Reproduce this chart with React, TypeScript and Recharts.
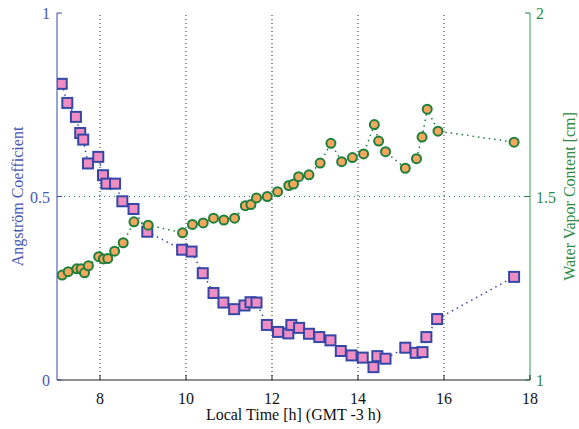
import React from 'react';
import { ComposedChart, Line, XAxis, YAxis, ReferenceLine } from 'recharts';

const angTime = [7.11, 7.24, 7.44, 7.54, 7.61, 7.72, 7.96, 8.07, 8.15, 8.35, 8.52, 8.78, 9.1, 9.91, 10.13, 10.39, 10.64, 10.87, 11.12, 11.36, 11.5, 11.64, 11.88, 12.14, 12.38, 12.45, 12.63, 12.86, 13.1, 13.36, 13.6, 13.85, 14.11, 14.36, 14.45, 14.64, 15.1, 15.34, 15.5, 15.59, 15.84, 17.63];
const angValue = [0.807, 0.755, 0.717, 0.673, 0.655, 0.59, 0.608, 0.558, 0.535, 0.535, 0.487, 0.466, 0.404, 0.355, 0.35, 0.291, 0.237, 0.211, 0.193, 0.203, 0.212, 0.211, 0.15, 0.131, 0.127, 0.15, 0.142, 0.126, 0.117, 0.108, 0.079, 0.067, 0.061, 0.035, 0.065, 0.058, 0.088, 0.074, 0.076, 0.117, 0.166, 0.281];
const wvTime = [7.12, 7.26, 7.46, 7.56, 7.64, 7.73, 7.97, 8.08, 8.18, 8.34, 8.54, 8.79, 9.12, 9.92, 10.15, 10.4, 10.64, 10.88, 11.13, 11.38, 11.51, 11.64, 11.89, 12.13, 12.39, 12.5, 12.62, 12.86, 13.12, 13.37, 13.62, 13.87, 14.13, 14.38, 14.48, 14.64, 15.1, 15.36, 15.49, 15.61, 15.86, 17.63];
const wvValue = [1.286, 1.295, 1.303, 1.303, 1.292, 1.311, 1.336, 1.33, 1.331, 1.351, 1.374, 1.431, 1.422, 1.401, 1.424, 1.428, 1.441, 1.436, 1.441, 1.475, 1.478, 1.496, 1.5, 1.513, 1.53, 1.534, 1.554, 1.559, 1.591, 1.645, 1.595, 1.606, 1.616, 1.696, 1.651, 1.622, 1.577, 1.603, 1.662, 1.738, 1.678, 1.648];

const xTicks = [8, 10, 12, 14, 16, 18];
const gridX = [8, 10, 12, 14, 16];
const leftTicks = [0, 0.5, 1];
const rightTicks = [1, 1.5, 2];
const leftTickLabels = ['0', '0.5', '1'];
const rightTickLabels = ['1', '1.5', '2'];

const angData = angTime.map((t, i) => ({ t, v: angValue[i] }));
const wvData = wvTime.map((t, i) => ({ t, v: wvValue[i] }));

const FONT = '"Liberation Serif", "Times New Roman", serif';
const BLUE = '#3548a6';
const BLUE_TXT = '#4758b4';
const PINK = '#f18dc3';
const GREEN = '#1f7f3c';
const GREEN_TXT = '#2e8b46';
const ORANGE = '#f5a85d';

const BottomTick = (props: any) => {
  const { x, y, payload } = props;
  return (
    <g>
      <line x1={x} x2={x} y1={y} y2={y - 5} stroke="#222" />
      <text x={x} y={y + 24} textAnchor="middle" fontFamily={FONT} fontSize={16} fill="#111">
        {payload.value}
      </text>
    </g>
  );
};

const TopTick = (props: any) => {
  const { x, y } = props;
  return <line x1={x} x2={x} y1={y} y2={y + 5} stroke="#222" />;
};

const LeftTick = (props: any) => {
  const { x, y, payload, index } = props;
  return (
    <g>
      <line x1={x} x2={x + 5} y1={y} y2={y} stroke={BLUE} />
      <text x={x - 7} y={y + 6} textAnchor="end" fontFamily={FONT} fontSize={16} fill={BLUE_TXT}>
        {leftTickLabels[index] ?? payload.value}
      </text>
    </g>
  );
};

const RightTick = (props: any) => {
  const { x, y, payload, index } = props;
  return (
    <g>
      <line x1={x} x2={x - 5} y1={y} y2={y} stroke={GREEN} />
      <text x={x + 6} y={y + 6} textAnchor="start" fontFamily={FONT} fontSize={16} fill={GREEN_TXT}>
        {rightTickLabels[index] ?? payload.value}
      </text>
    </g>
  );
};

const squareDot = (props: any) => {
  const { cx, cy, index } = props;
  return (
    <rect key={`sq${index}`} x={cx - 5} y={cy - 5} width={10} height={10} fill={PINK} stroke={BLUE} strokeWidth={2} />
  );
};

const circleDot = (props: any) => {
  const { cx, cy, index } = props;
  return <circle key={`ci${index}`} cx={cx} cy={cy} r={4.5} fill={ORANGE} stroke={GREEN} strokeWidth={2} />;
};

export default function App() {
  return (
    <div style={{ position: 'absolute', left: 0, top: 0, width: 579, height: 429, background: '#fff' }}>
      <ComposedChart width={579} height={429} margin={{ top: 13, right: 0, bottom: 0, left: 0 }}>
        <XAxis
          xAxisId="bottom"
          dataKey="t"
          type="number"
          domain={[7, 18]}
          ticks={xTicks}
          allowDataOverflow
          height={49}
          tickSize={0}
          tickMargin={0}
          tickLine={false}
          axisLine={{ stroke: '#222' }}
          tick={<BottomTick />}
          label={{ value: 'Local Time [h] (GMT -3 h)', position: 'center', dy: 10, fontFamily: FONT, fontSize: 16, fill: '#111' }}
        />
        <XAxis
          xAxisId="top"
          orientation="top"
          type="number"
          domain={[7, 18]}
          ticks={xTicks}
          allowDataOverflow
          height={0}
          tickSize={0}
          tickMargin={0}
          tickLine={false}
          axisLine={{ stroke: '#7d8f84' }}
          tick={<TopTick />}
        />
        <YAxis
          yAxisId="left"
          type="number"
          domain={[0, 1]}
          ticks={leftTicks}
          allowDataOverflow
          width={57}
          tickSize={0}
          tickMargin={0}
          tickLine={false}
          axisLine={{ stroke: BLUE }}
          tick={<LeftTick />}
          label={{ value: 'Angström Coefficient', angle: -90, position: 'center', dx: -11, fontFamily: FONT, fontSize: 16, fill: BLUE_TXT }}
        />
        <YAxis
          yAxisId="right"
          orientation="right"
          type="number"
          domain={[1, 2]}
          ticks={rightTicks}
          allowDataOverflow
          width={49}
          tickSize={0}
          tickMargin={0}
          tickLine={false}
          axisLine={{ stroke: '#3a9a5a' }}
          tick={<RightTick />}
          label={{ value: 'Water Vapor Content [cm]', angle: -90, position: 'center', dx: 15, fontFamily: FONT, fontSize: 16, fill: GREEN_TXT }}
        />
        {gridX.map((g) => (
          <ReferenceLine key={`g${g}`} xAxisId="bottom" yAxisId="left" x={g} stroke="#222" strokeDasharray="1 3" />
        ))}
        <ReferenceLine xAxisId="bottom" yAxisId="right" y={1.5} stroke={GREEN} strokeDasharray="1 4" />
        <Line
          xAxisId="bottom"
          yAxisId="left"
          data={angData}
          dataKey="v"
          stroke={BLUE}
          strokeWidth={1.5}
          strokeDasharray="1.5 4"
          dot={squareDot}
          activeDot={false}
          isAnimationActive={false}
        />
        <Line
          xAxisId="bottom"
          yAxisId="right"
          data={wvData}
          dataKey="v"
          stroke={GREEN}
          strokeWidth={1.5}
          strokeDasharray="1.5 4"
          dot={circleDot}
          activeDot={false}
          isAnimationActive={false}
        />
      </ComposedChart>
    </div>
  );
}
